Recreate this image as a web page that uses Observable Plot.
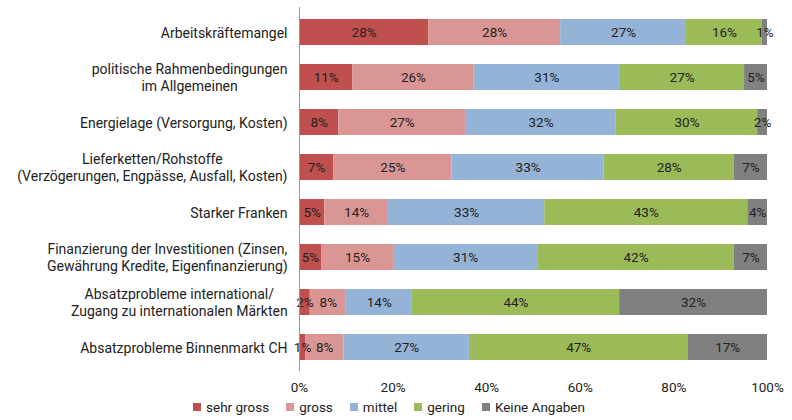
<!DOCTYPE html>
<html>
<head>
<meta charset="utf-8">
<script src="https://cdn.jsdelivr.net/npm/d3@7"></script>
<script src="https://cdn.jsdelivr.net/npm/@observablehq/plot@0.6"></script>
<style>
  body { margin: 0; background: #fff; font-family: Roboto, sans-serif; color: #222; }
  #chart { width: 792px; }
  .legend { display: flex; justify-content: center; gap: 17px; font-size: 13.5px; margin-top: 1px; padding-right: 14px; }
  .legend span.item { display: flex; align-items: center; gap: 5px; }
  .legend span.sw { width: 8px; height: 8px; display: inline-block; }
</style>
</head>
<body>
<div id="chart"></div>
<script>
const categories = [
  "Arbeitskräftemangel",
  "politische Rahmenbedingungen\nim Allgemeinen",
  "Energielage (Versorgung, Kosten)",
  "Lieferketten/Rohstoffe\n(Verzögerungen, Engpässe, Ausfall, Kosten)",
  "Starker Franken",
  "Finanzierung der Investitionen (Zinsen,\nGewährung Kredite, Eigenfinanzierung)",
  "Absatzprobleme international/\nZugang zu internationalen Märkten",
  "Absatzprobleme Binnenmarkt CH"
];
const seriesNames = ["sehr gross", "gross", "mittel", "gering", "Keine Angaben"];
const seriesColors = ["#C0504D", "#DA9694", "#95B3D7", "#9BBB59", "#808080"];

const sehrGross = [27.6, 11.4, 8.4, 7.3, 5.4, 4.7, 2.3, 1.3];
const gross     = [28.2, 25.9, 27.1, 25.3, 13.6, 15.4, 7.7, 8.2];
const mittel    = [26.9, 31.1, 32.2, 32.5, 33.4, 30.8, 14.1, 26.8];
const gering    = [16.2, 26.7, 30.2, 27.8, 43.4, 42.0, 44.3, 46.7];
const keine     = [1.1, 4.9, 2.1, 7.1, 4.2, 7.1, 31.6, 17.0];

const xTicks = [0, 20, 40, 60, 80, 100];

const seriesValues = [sehrGross, gross, mittel, gering, keine];
const data = [];
categories.forEach((c, i) => {
  seriesNames.forEach((s, j) => {
    data.push({cat: c, series: s, value: seriesValues[j][i]});
  });
});

const chart = Plot.plot({
  width: 792,
  height: 398,
  marginLeft: 299,
  marginRight: 25,
  marginTop: 7,
  marginBottom: 27,
  style: {fontFamily: "Roboto, sans-serif", fontSize: "12px", color: "#222"},
  x: {domain: [0, 100], axis: null},
  y: {domain: categories, axis: null, paddingInner: 0.43, paddingOuter: 0.215},
  color: {domain: seriesNames, range: seriesColors},
  marks: [
    Plot.barX(data, Plot.stackX({x: "value", y: "cat", z: "series", fill: "series", order: seriesNames})),
    Plot.text(data, Plot.stackX({x: "value", y: "cat", z: "series", order: seriesNames,
      text: d => Math.round(d.value) + "%", fill: "#222", fontSize: 13.5})),
    Plot.ruleX([0], {stroke: "#999", strokeWidth: 1}),
    Plot.axisX({ticks: xTicks, tickFormat: d => d + "%", tickSize: 0, tickPadding: 11, fontSize: 13.5, anchor: "bottom", label: null}),
    Plot.axisY({tickSize: 0, tickPadding: 12, fontSize: 14, lineHeight: 1.2, anchor: "left", tickFormat: d => d, label: null})
  ]
});
document.getElementById("chart").appendChild(chart);

// center multi-line category labels within their right-aligned block
chart.querySelectorAll('g[aria-label="y-axis tick label"] text').forEach(t => {
  const tspans = t.querySelectorAll("tspan");
  if (tspans.length < 2) return;
  const bb = t.getBBox();
  const cx = bb.x + bb.width / 2;
  t.setAttribute("text-anchor", "middle");
  tspans.forEach(ts => ts.setAttribute("x", cx));
});

// legend
const legend = document.createElement("div");
legend.className = "legend";
seriesNames.forEach((s, i) => {
  const item = document.createElement("span");
  item.className = "item";
  const sw = document.createElement("span");
  sw.className = "sw";
  sw.style.background = seriesColors[i];
  const lab = document.createElement("span");
  lab.textContent = s;
  item.appendChild(sw);
  item.appendChild(lab);
  legend.appendChild(item);
});
document.getElementById("chart").appendChild(legend);
</script>
</body>
</html>
